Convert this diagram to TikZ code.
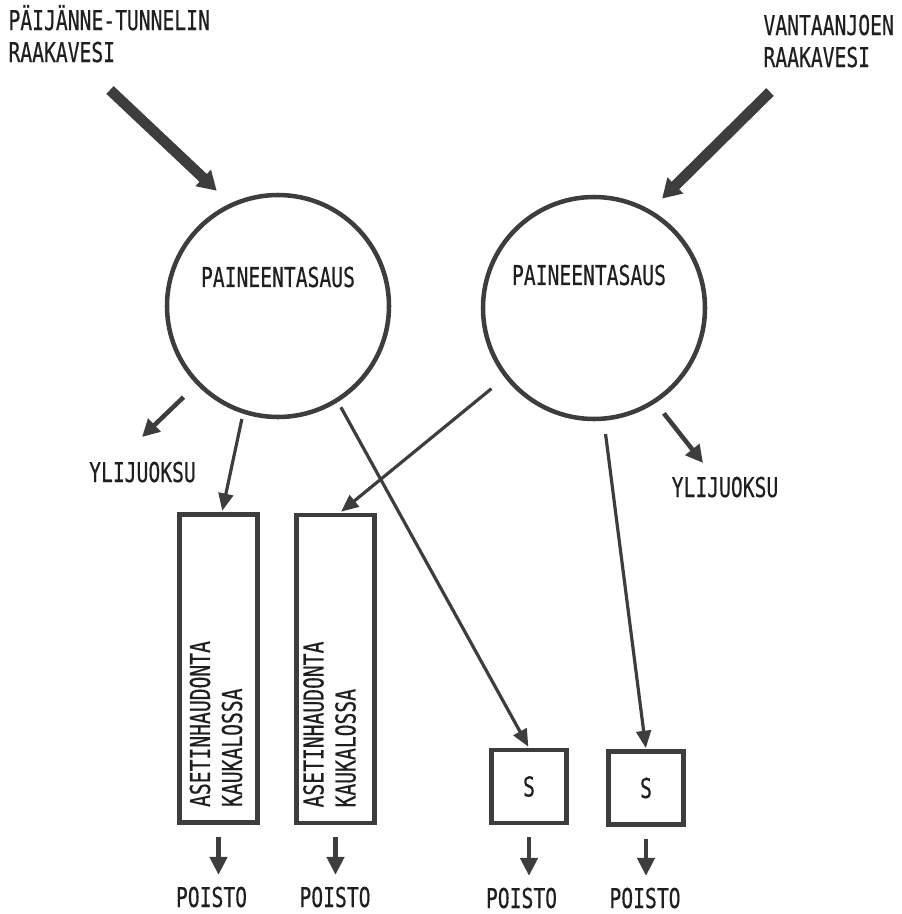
\documentclass[tikz,border=0pt]{standalone}
\usepackage{fontspec}
\usetikzlibrary{arrows.meta,calc}
\newfontfamily\plotfont[FakeStretch=0.72,FakeBold=0.4]{DejaVu Sans Mono}
\definecolor{ink}{rgb}{0.24,0.24,0.24}
\definecolor{type}{rgb}{0.12,0.12,0.12}

\tikzset{every picture/.style={line width=0.75pt}}
\tikzset{
  lbl/.style={inner sep=0pt, text=type, font=\plotfont\fontsize{20.5}{24}\selectfont},
  tank/.style={draw=ink, line width=3.4pt, circle, minimum size=166.5pt, inner sep=0pt},
  basin/.style={draw=ink, line width=3.6pt, minimum width=58.5pt, minimum height=231pt, inner sep=0pt},
  sbox/.style={lbl, draw=ink, line width=3.4pt, minimum width=56.5pt, minimum height=54.5pt},
  feed/.style={ink, line width=8pt, -{Triangle[length=14pt,width=16pt]}},
  flow/.style={ink, line width=2.4pt, -{Triangle[length=13pt,width=11pt]}},
  spill/.style={ink, line width=3.4pt, -{Triangle[length=13pt,width=13pt]}},
  drain/.style={ink, line width=3.4pt, shorten <=9pt, shorten >=8.5pt, -{Triangle[length=13.5pt,width=12.75pt]}},
}

\begin{document}
\begin{tikzpicture}[x=0.75pt,y=0.75pt,yscale=-1,xscale=1]
\useasboundingbox (0,0) rectangle (902,914);

% Text Node
\node[lbl, anchor=base west, align=left] (raw1) at (8,62) {PÄIJÄNNE-TUNNELIN\\RAAKAVESI};
% Text Node
\node[lbl, anchor=base west, align=left] (raw2) at (763,67) {VANTAANJOEN\\RAAKAVESI};

%Circles
\node[tank] (tasaus1) at (278,306) {};
\node[lbl] (tasaus1 text) at (278,277) {PAINEENTASAUS};
\node[tank] (tasaus2) at (594,308) {};
\node[lbl] (tasaus2 text) at (589,275) {PAINEENTASAUS};

%Tanks
\node[basin] (box1) at (218.5,668.5) {};
\node[lbl, rotate=90, anchor=west, align=left] (box1 text) at ($(box1.south)+(-2.5,-17.5)$) {ASETINHAUDONTA\\KAUKALOSSA};
\node[basin] (box2) at (335.5,669) {};
\node[lbl, rotate=90, anchor=west, align=left] (box2 text) at ($(box2.south)+(-6,-17.5)$) {ASETINHAUDONTA\\KAUKALOSSA};
\node[sbox] (s1) at (529,786.5) {S};
\node[sbox] (s2) at (646,788) {S};

% Text Node
\node[lbl, anchor=base] (yli1) at (142.5,482) {YLIJUOKSU};
\node[lbl, anchor=base] (yli2) at (725,497) {YLIJUOKSU};
\node[lbl, anchor=base] (poisto1) at (211.5,907) {POISTO};
\node[lbl, anchor=base] (poisto2) at (335,907) {POISTO};
\node[lbl, anchor=base] (poisto3) at (521.5,908) {POISTO};
\node[lbl, anchor=base] (poisto4) at (645,908) {POISTO};

%Raw water in
\coordinate (feed1) at (110,90);
\coordinate (feed2) at (770,92);
\draw[feed, shorten >=13.8pt] (feed1) -- (tasaus1.115.5);
\draw[feed, shorten >=12.1pt] (feed2) -- (tasaus2.60.6);

%Overflow
\coordinate (spill1) at (142,437);
\coordinate (spill2) at (703,463);
\draw[spill, shorten <=13.5pt] (tasaus1.224) -- (spill1);
\draw[spill, shorten <=9.9pt] (tasaus2.303) -- (spill2);

%Straight Lines
\draw[flow, shorten <=4pt, shorten >=1pt] (tasaus1.252.5) -- ([xshift=2.6pt]box1.north);
\draw[flow, shorten <=4.4pt, shorten >=1pt] (tasaus1.302) -- (s1.north);
\draw[flow, shorten <=12.9pt, shorten >=1pt] (tasaus2.218) -- ([xshift=3.4pt]box2.north);
\draw[flow, shorten <=10pt, shorten >=1pt] (tasaus2.275) -- (s2.north);

%Outlets
\draw[drain] (box1.south) -- (box1.south |- poisto1.north);
\draw[drain] (box2.south) -- (box2.south |- poisto2.north);
\draw[drain] (s1.south) -- (s1.south |- poisto3.north);
\draw[drain] (s2.south) -- (s2.south |- poisto4.north);

\end{tikzpicture}
\end{document}
